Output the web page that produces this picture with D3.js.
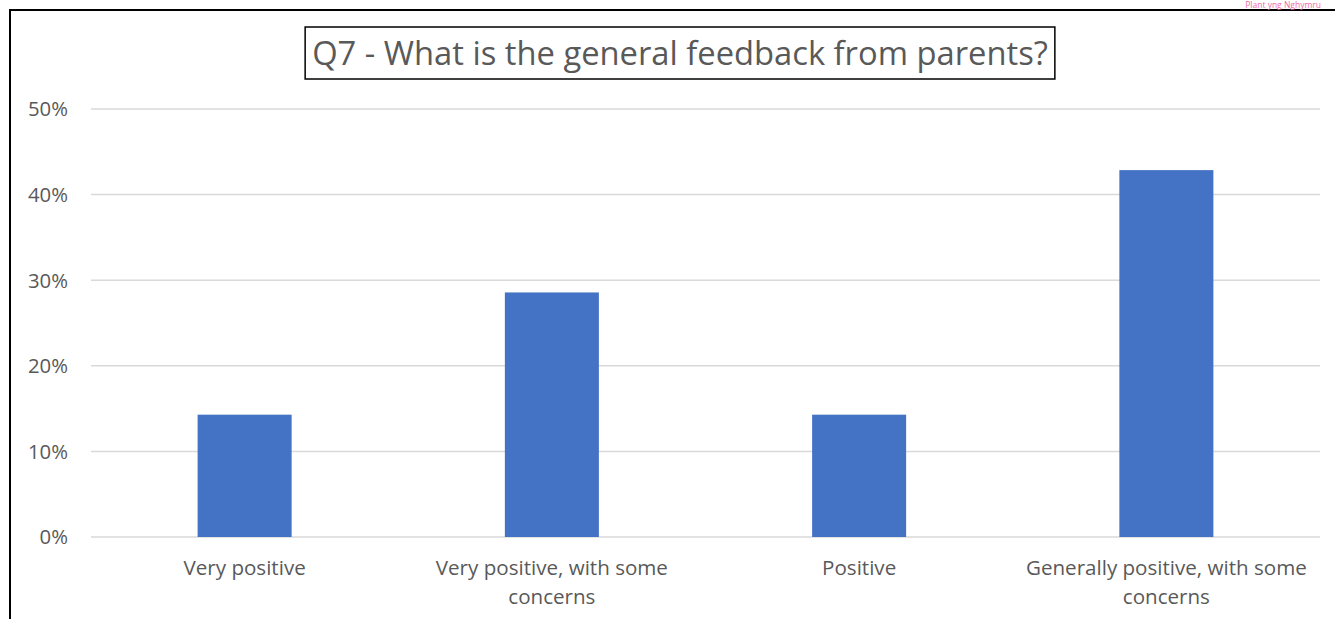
<!DOCTYPE html>
<html>
<head>
<meta charset="utf-8">
<script src="https://cdn.jsdelivr.net/npm/d3@7"></script>
<style>
  html, body { margin: 0; padding: 0; background: #fff; }
  svg { display: block; font-family: "Open Sans", sans-serif; }
</style>
</head>
<body>
<div id="chart"></div>
<script>
(function() {
    "use strict";

    // data
    const categories = ["Very positive", "Very positive, with some concerns", "Positive", "Generally positive, with some concerns"];
    const shares = [0.1429, 0.2857, 0.1429, 0.4286];
    const yTicks = [0, 0.1, 0.2, 0.3, 0.4, 0.5];
    const titleText = "Q7 - What is the general feedback from parents?";
    const cornerText = "Plant yng Nghymru";

    const width = 1335, height = 619;
    const plot = {left: 91, right: 1320, top: 109, bottom: 537};
    const textGrey = "#595959";

    const svg = d3.select("#chart").append("svg")
        .attr("width", width).attr("height", height);

    // fit a font size so that the text takes a given width
    function fitSize(sample, target) {
        const t = svg.append("text").style("font-size", "100px").text(sample);
        const w = t.node().getComputedTextLength();
        t.remove();
        return 100 * target / w;
    }
    const titleSize = fitSize(titleText, 736);
    const labelSize = fitSize("Generally positive, with some", 281);
    const tickSize = fitSize("50%", 40);

    // outer frame (left and top only)
    svg.append("path")
        .attr("d", "M10," + height + "V10H" + width)
        .attr("fill", "none").attr("stroke", "#000").attr("stroke-width", 2);

    svg.append("text")
        .attr("x", 1321).attr("y", 7.5)
        .attr("text-anchor", "end")
        .style("font-size", "8.5px").attr("fill", "#f06aa8")
        .text(cornerText);

    const x = d3.scaleBand().domain(categories)
        .range([plot.left, plot.right])
        .paddingInner(0.694).paddingOuter(0.347);
    const y = d3.scaleLinear().domain([0, 0.5]).range([plot.bottom, plot.top]);

    // gridlines
    svg.append("g").selectAll("line").data(yTicks).join("line")
        .attr("x1", plot.left).attr("x2", plot.right)
        .attr("y1", d => y(d)).attr("y2", d => y(d))
        .attr("stroke", "#d9d9d9").attr("stroke-width", 1.5);

    // y tick labels
    svg.append("g").selectAll("text").data(yTicks).join("text")
        .attr("x", 68).attr("y", d => y(d)).attr("dy", "0.36em")
        .attr("text-anchor", "end")
        .style("font-size", tickSize + "px").attr("fill", textGrey)
        .text(d3.format(".0%"));

    // bars
    svg.append("g").selectAll("rect").data(shares).join("rect")
        .attr("x", (d, i) => x(categories[i]))
        .attr("width", x.bandwidth())
        .attr("y", d => y(d))
        .attr("height", d => y(0) - y(d))
        .attr("fill", "#4472c4");

    // category labels, wrapped like the original
    const labels = svg.append("g").selectAll("text").data(categories).join("text")
        .attr("text-anchor", "middle")
        .style("font-size", labelSize + "px").attr("fill", textGrey)
        .attr("y", 575);
    labels.each(function(d) {
        const el = d3.select(this);
        const cx = x(d) + x.bandwidth() / 2;
        const words = d.split(" ");
        let line = [], lineNo = 0;
        let tspan = el.append("tspan").attr("x", cx).attr("y", 575);
        words.forEach(function(w) {
            line.push(w);
            tspan.text(line.join(" "));
            if (tspan.node().getComputedTextLength() > 295 && line.length > 1) {
                line.pop();
                tspan.text(line.join(" "));
                line = [w];
                lineNo++;
                tspan = el.append("tspan").attr("x", cx).attr("y", 575 + lineNo * 28.5).text(w);
            }
        });
    });

    // title with its box
    const title = svg.append("text")
        .attr("x", 680).attr("y", 54).attr("dy", "0.35em")
        .attr("text-anchor", "middle")
        .style("font-size", titleSize + "px").attr("fill", textGrey)
        .text(titleText);
    const tw = title.node().getComputedTextLength();
    svg.insert("rect", "text")
        .attr("x", 680 - tw / 2 - 7).attr("y", 27)
        .attr("width", tw + 14).attr("height", 52)
        .attr("fill", "#fff").attr("stroke", "#000").attr("stroke-width", 1.5);
})();
</script>
</body>
</html>
